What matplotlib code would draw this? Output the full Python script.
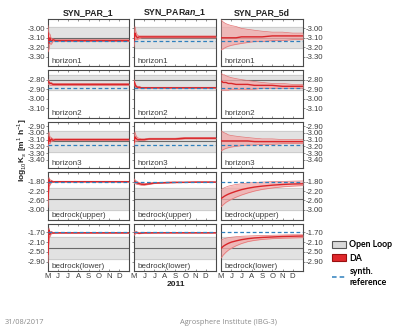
import numpy as np
import matplotlib
matplotlib.use('Agg')
import matplotlib.pyplot as plt
from matplotlib.patches import Patch
from matplotlib.lines import Line2D

# --- dati ---
giorni = [0, 3, 6, 10, 15, 22, 31, 45, 61, 80, 100, 123, 153, 184, 214, 245]
mesi_pos = [0, 31, 61, 92, 123, 153, 184, 214]
mesi_lab = ['M', 'J', 'J', 'A', 'S', 'O', 'N', 'D']

titoli = ['SYN_PAR_1', r'SYN_PAR$\mathbfit{an}$_1', 'SYN_PAR_5d']
strati = ['horizon1', 'horizon2', 'horizon3', 'bedrock(upper)', 'bedrock(lower)']

ylims = [(-3.40, -2.90), (-3.20, -2.70), (-3.52, -2.84), (-3.43, -1.39), (-3.28, -1.36)]
yticks = [[-3.0, -3.1, -3.2, -3.3],
          [-2.8, -2.9, -3.0, -3.1],
          [-2.9, -3.0, -3.1, -3.2, -3.3, -3.4],
          [-1.8, -2.2, -2.6, -3.0],
          [-1.7, -2.1, -2.5, -2.9]]

# open loop (banda e media) e parametro sintetico di riferimento
ol_lo = [-3.21, -2.91, -3.28, -3.00, -2.79]
ol_hi = [-2.99, -2.75, -2.98, -2.05, -1.90]
ol_med = [-3.10, -2.80, -3.12, -2.55, -2.33]
rif = [-3.13, -2.885, -3.18, -1.80, -1.70]

# DA: media e spread dell'ensemble, per colonna
p1_med = [
    [-3.05, -3.16, -3.10, -3.14, -3.12, -3.13, -3.13, -3.13, -3.13, -3.13, -3.13, -3.13, -3.13, -3.13, -3.13, -3.13],
    [-2.82, -2.83, -2.84, -2.84, -2.85, -2.85, -2.85, -2.85, -2.85, -2.85, -2.85, -2.85, -2.85, -2.85, -2.85, -2.85],
    [-3.16, -3.06, -3.13, -3.09, -3.11, -3.10, -3.10, -3.10, -3.10, -3.10, -3.10, -3.10, -3.10, -3.10, -3.10, -3.10],
    [-2.55, -1.72, -1.85, -1.78, -1.81, -1.80, -1.80, -1.80, -1.80, -1.80, -1.80, -1.80, -1.80, -1.80, -1.80, -1.80],
    [-2.60, -1.62, -1.78, -1.70, -1.73, -1.72, -1.72, -1.72, -1.72, -1.72, -1.72, -1.72, -1.72, -1.72, -1.72, -1.72],
]
p1_lo = [
    [-3.25, -3.22, -3.16, -3.17, -3.14, -3.14, -3.14, -3.14, -3.14, -3.14, -3.14, -3.14, -3.14, -3.14, -3.14, -3.14],
    [-2.85, -2.85, -2.86, -2.86, -2.86, -2.86, -2.86, -2.86, -2.86, -2.86, -2.86, -2.86, -2.86, -2.86, -2.86, -2.86],
    [-3.22, -3.15, -3.16, -3.12, -3.12, -3.11, -3.11, -3.11, -3.11, -3.11, -3.11, -3.11, -3.11, -3.11, -3.11, -3.11],
    [-2.90, -2.00, -1.95, -1.84, -1.83, -1.82, -1.82, -1.82, -1.82, -1.82, -1.82, -1.82, -1.82, -1.82, -1.82, -1.82],
    [-2.95, -1.90, -1.88, -1.76, -1.75, -1.74, -1.74, -1.74, -1.74, -1.74, -1.74, -1.74, -1.74, -1.74, -1.74, -1.74],
]
p1_hi = [
    [-2.97, -3.06, -3.06, -3.11, -3.11, -3.12, -3.12, -3.12, -3.12, -3.12, -3.12, -3.12, -3.12, -3.12, -3.12, -3.12],
    [-2.80, -2.81, -2.83, -2.83, -2.84, -2.84, -2.84, -2.84, -2.84, -2.84, -2.84, -2.84, -2.84, -2.84, -2.84, -2.84],
    [-3.05, -2.99, -3.06, -3.07, -3.09, -3.09, -3.09, -3.09, -3.09, -3.09, -3.09, -3.09, -3.09, -3.09, -3.09, -3.09],
    [-2.20, -1.62, -1.72, -1.74, -1.78, -1.79, -1.79, -1.79, -1.79, -1.79, -1.79, -1.79, -1.79, -1.79, -1.79, -1.79],
    [-2.25, -1.52, -1.68, -1.66, -1.70, -1.71, -1.71, -1.71, -1.71, -1.71, -1.71, -1.71, -1.71, -1.71, -1.71, -1.71],
]

p2_med = [
    [-3.14, -3.05, -3.08, -3.10, -3.09, -3.09, -3.09, -3.09, -3.09, -3.09, -3.09, -3.09, -3.09, -3.09, -3.09, -3.09],
    [-2.82, -2.85, -2.87, -2.88, -2.88, -2.885, -2.885, -2.885, -2.885, -2.885, -2.885, -2.885, -2.885, -2.885, -2.885, -2.885],
    [-3.14, -3.06, -3.08, -3.10, -3.10, -3.10, -3.10, -3.09, -3.09, -3.09, -3.09, -3.09, -3.08, -3.08, -3.08, -3.08],
    [-1.78, -1.80, -1.83, -1.86, -1.88, -1.91, -1.92, -1.89, -1.86, -1.85, -1.84, -1.83, -1.83, -1.82, -1.82, -1.82],
    [-1.75, -1.72, -1.70, -1.72, -1.74, -1.73, -1.72, -1.72, -1.72, -1.72, -1.72, -1.72, -1.72, -1.72, -1.72, -1.72],
]
p2_lo = [
    [-3.20, -3.12, -3.12, -3.12, -3.11, -3.10, -3.10, -3.10, -3.10, -3.10, -3.10, -3.10, -3.10, -3.10, -3.10, -3.10],
    [-2.84, -2.87, -2.89, -2.89, -2.89, -2.89, -2.89, -2.89, -2.89, -2.89, -2.89, -2.89, -2.89, -2.89, -2.89, -2.89],
    [-3.20, -3.12, -3.12, -3.12, -3.11, -3.11, -3.11, -3.10, -3.10, -3.10, -3.10, -3.10, -3.09, -3.09, -3.09, -3.09],
    [-1.88, -1.88, -1.90, -1.92, -1.93, -1.95, -1.95, -1.92, -1.88, -1.87, -1.86, -1.85, -1.84, -1.83, -1.83, -1.83],
    [-1.82, -1.78, -1.75, -1.75, -1.76, -1.75, -1.74, -1.74, -1.73, -1.73, -1.73, -1.73, -1.73, -1.73, -1.73, -1.73],
]
p2_hi = [
    [-3.06, -2.98, -3.04, -3.07, -3.08, -3.08, -3.08, -3.08, -3.08, -3.08, -3.08, -3.08, -3.08, -3.08, -3.08, -3.08],
    [-2.80, -2.83, -2.86, -2.87, -2.87, -2.88, -2.88, -2.88, -2.88, -2.88, -2.88, -2.88, -2.88, -2.88, -2.88, -2.88],
    [-3.04, -2.99, -3.04, -3.07, -3.08, -3.09, -3.09, -3.08, -3.08, -3.08, -3.08, -3.08, -3.07, -3.07, -3.07, -3.07],
    [-1.68, -1.72, -1.76, -1.80, -1.84, -1.87, -1.89, -1.86, -1.84, -1.83, -1.82, -1.82, -1.82, -1.81, -1.81, -1.81],
    [-1.68, -1.66, -1.65, -1.69, -1.72, -1.71, -1.70, -1.70, -1.71, -1.71, -1.71, -1.71, -1.71, -1.71, -1.71, -1.71],
]

p5_med = [
    [-3.10, -3.10, -3.10, -3.10, -3.10, -3.10, -3.10, -3.10, -3.09, -3.09, -3.09, -3.09, -3.08, -3.08, -3.08, -3.08],
    [-2.82, -2.82, -2.83, -2.83, -2.83, -2.84, -2.84, -2.85, -2.85, -2.85, -2.86, -2.86, -2.86, -2.87, -2.87, -2.87],
    [-3.12, -3.12, -3.12, -3.12, -3.12, -3.12, -3.12, -3.12, -3.12, -3.12, -3.13, -3.13, -3.13, -3.13, -3.13, -3.13],
    [-2.52, -2.49, -2.46, -2.42, -2.38, -2.33, -2.28, -2.21, -2.14, -2.08, -2.03, -1.99, -1.95, -1.92, -1.90, -1.89],
    [-2.35, -2.32, -2.28, -2.24, -2.20, -2.15, -2.10, -2.05, -2.00, -1.96, -1.93, -1.91, -1.89, -1.87, -1.86, -1.85],
]
p5_lo = [
    [-3.23, -3.22, -3.22, -3.21, -3.20, -3.19, -3.18, -3.17, -3.16, -3.15, -3.14, -3.14, -3.13, -3.13, -3.12, -3.12],
    [-2.91, -2.91, -2.91, -2.91, -2.91, -2.91, -2.90, -2.90, -2.90, -2.90, -2.90, -2.89, -2.89, -2.89, -2.89, -2.89],
    [-3.27, -3.26, -3.25, -3.24, -3.23, -3.22, -3.21, -3.20, -3.19, -3.18, -3.18, -3.17, -3.17, -3.16, -3.16, -3.16],
    [-2.87, -2.83, -2.79, -2.74, -2.68, -2.62, -2.55, -2.46, -2.37, -2.28, -2.20, -2.13, -2.07, -2.02, -1.99, -1.97],
    [-2.75, -2.70, -2.64, -2.58, -2.51, -2.43, -2.35, -2.25, -2.16, -2.08, -2.03, -1.99, -1.96, -1.94, -1.93, -1.92],
]
p5_hi = [
    [-2.91, -2.92, -2.93, -2.94, -2.95, -2.96, -2.97, -2.98, -3.00, -3.01, -3.02, -3.03, -3.04, -3.04, -3.05, -3.05],
    [-2.74, -2.74, -2.75, -2.75, -2.76, -2.77, -2.78, -2.79, -2.80, -2.81, -2.82, -2.83, -2.84, -2.84, -2.85, -2.85],
    [-2.97, -2.98, -2.99, -3.00, -3.01, -3.03, -3.04, -3.05, -3.06, -3.07, -3.08, -3.09, -3.09, -3.10, -3.10, -3.10],
    [-2.15, -2.12, -2.09, -2.06, -2.03, -1.99, -1.96, -1.92, -1.89, -1.86, -1.84, -1.82, -1.80, -1.79, -1.78, -1.77],
    [-2.02, -2.00, -1.98, -1.96, -1.94, -1.92, -1.90, -1.88, -1.86, -1.85, -1.84, -1.83, -1.82, -1.81, -1.80, -1.80],
]

medie = [p1_med, p2_med, p5_med]
bassi = [p1_lo, p2_lo, p5_lo]
alti = [p1_hi, p2_hi, p5_hi]

# --- colori ---
c_ol = '#e2e2e2'
c_ol_med = '#6a6a6a'
c_da = '#d9262a'
c_da_band = '#f3a9a9'
c_rif = '#2f80bd'
c_testo = '#3c3c3c'

plt.rcParams['font.family'] = ['Liberation Sans', 'DejaVu Sans']
plt.rcParams['mathtext.fontset'] = 'custom'
plt.rcParams['mathtext.bfit'] = 'Liberation Sans:bold:italic'
plt.rcParams['mathtext.bf'] = 'Liberation Sans:bold'
plt.rcParams['mathtext.rm'] = 'Liberation Sans'

W, H = 395, 329
fig = plt.figure(figsize=(W / 100, H / 100), dpi=100)

col_x = [48, 134, 221]
col_w = [81, 82, 82]
riga_y = [19, 70, 122, 172, 224]
riga_h = [47, 48, 46, 48, 47]

for c in range(3):
    for r in range(5):
        ax = fig.add_axes([col_x[c] / W, 1 - (riga_y[r] + riga_h[r]) / H,
                           col_w[c] / W, riga_h[r] / H])
        ax.set_xlim(0, 245)
        ax.set_ylim(*ylims[r])

        # open loop
        ax.axhspan(ol_lo[r], ol_hi[r], color=c_ol, zorder=1)
        ax.axhline(ol_lo[r], color='#c4c4c4', lw=0.5, zorder=1.5)
        ax.axhline(ol_hi[r], color='#c4c4c4', lw=0.5, zorder=1.5)
        ax.axhline(ol_med[r], color=c_ol_med, lw=0.8, zorder=2)

        # DA
        ax.fill_between(giorni, bassi[c][r], alti[c][r], color=c_da_band,
                        alpha=0.75, lw=0, zorder=3)
        ax.plot(giorni, bassi[c][r], color='#e57373', lw=0.5, zorder=3.5)
        ax.plot(giorni, alti[c][r], color='#e57373', lw=0.5, zorder=3.5)
        ax.plot(giorni, medie[c][r], color=c_da, lw=1.0, zorder=4)

        # riferimento sintetico
        ax.axhline(rif[r], color=c_rif, lw=0.9, ls=(0, (3, 2)), zorder=5)

        ax.text(0.04, 0.03, strati[r], transform=ax.transAxes, fontsize=5.8,
                color=c_testo, va='bottom', ha='left', zorder=6)

        for s in ax.spines.values():
            s.set_color('#4a4a4a')
            s.set_linewidth(0.8)

        ax.set_xticks(mesi_pos)
        ax.tick_params(axis='x', direction='in', length=1.5, width=0.5,
                       top=True, bottom=True, colors='#666666',
                       labelsize=5.6, labelcolor=c_testo, pad=1.5)
        if r == 4:
            ax.set_xticklabels(mesi_lab)
        else:
            ax.set_xticklabels([])

        ax.set_yticks(yticks[r])
        ax.tick_params(axis='y', length=1.5, width=0.5, colors='#666666',
                       labelsize=5.6, labelcolor=c_testo, pad=0.5)
        etichette = ['%.2f' % v for v in yticks[r]]
        if c == 0:
            ax.set_yticklabels(etichette)
        elif c == 2:
            ax.yaxis.tick_right()
            ax.set_yticklabels(etichette)
        else:
            ax.set_yticklabels([])

        if r == 0:
            ax.set_title(titoli[c], fontsize=6.3, fontweight='bold',
                         color='#222222', pad=3)

fig.text(22 / W, 1 - 150 / H, r'log$_{10}$K$_s$ [m$^1$ h$^{-1}$]',
         rotation=90, fontsize=6, fontweight='bold', color='#222222',
         ha='center', va='center')
fig.text(176 / W, 1 - 285 / H, '2011', fontsize=6, fontweight='bold',
         color='#222222', ha='center', va='center')

# legenda
maniglie = [Patch(facecolor='#d9d9d9', edgecolor='#555555', lw=0.8),
            Patch(facecolor='#e0282c', edgecolor='#9a1010', lw=0.8),
            Line2D([], [], color=c_rif, lw=1.1, ls=(0, (3, 2)))]
fig.legend(maniglie, ['Open Loop', 'DA', 'synth.\nreference'],
           loc='upper left', bbox_to_anchor=(328 / W, 1 - 236 / H),
           frameon=False, handlelength=1.6, handleheight=0.9,
           handletextpad=0.35, labelspacing=0.5, borderpad=0,
           prop={'family': 'Lato', 'weight': 'bold', 'size': 6.3})

# piè di pagina
fig.text(5 / W, 1 - 322 / H, '31/08/2017', fontsize=5.4, color='#8a8a8a',
         family='Open Sans', va='center')
fig.text(180 / W, 1 - 322 / H, 'Agrosphere Institute (IBG-3)', fontsize=5.4,
         color='#8a8a8a', family='Open Sans', va='center')

fig.savefig('out.png', dpi=100)
